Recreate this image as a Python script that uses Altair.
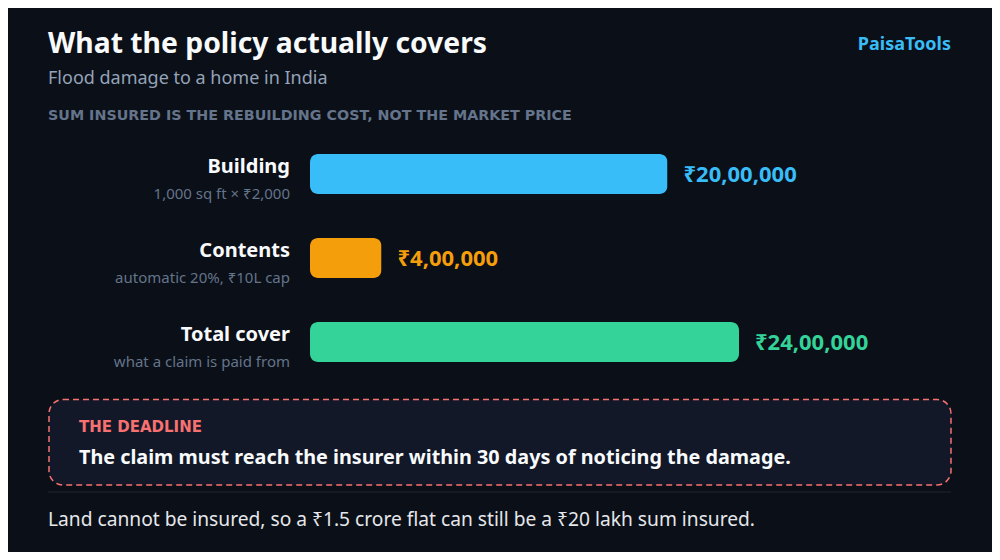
import altair as alt
import pandas as pd

# ---- data ----
categories = ["Building", "Contents", "Total cover"]
notes = ["1,000 sq ft × ₹2,000", "automatic 20%, ₹10L cap", "what a claim is paid from"]
values = [2000000, 400000, 2400000]
value_labels = ["₹20,00,000", "₹4,00,000", "₹24,00,000"]
colors = ["#38bdf8", "#f59e0b", "#34d399"]

title = "What the policy actually covers"
subtitle = "Flood damage to a home in India"
section = "SUM INSURED IS THE REBUILDING COST, NOT THE MARKET PRICE"
brand = "PaisaTools"
callout_head = "THE DEADLINE"
callout_body = "The claim must reach the insurer within 30 days of noticing the damage."
footer = "Land cannot be insured, so a ₹1.5 crore flat can still be a ₹20 lakh sum insured."

FONT = "Noto Sans"
WIDE = "DejaVu Sans"
BG = "#0b0f17"

df = pd.DataFrame({"category": categories, "note": notes, "value": values, "label": value_labels})

xs = alt.Scale(domain=[0, 2400000], range=[302, 731])
ys = alt.Scale(domain=categories, range=[146, 354], paddingInner=0.524, paddingOuter=0)
cs = alt.Scale(domain=categories, range=colors)

base = alt.Chart(df)

bars = base.mark_bar(cornerRadius=8).encode(
    x=alt.X("value:Q", scale=xs, axis=None),
    y=alt.Y("category:N", scale=ys, axis=None, sort=categories),
    color=alt.Color("category:N", scale=cs, legend=None),
)

vals = base.mark_text(align="left", baseline="middle", dx=16, dy=1, font=FONT,
                      fontSize=22, fontWeight="bold").encode(
    x=alt.X("value:Q", scale=xs, axis=None),
    y=alt.Y("category:N", scale=ys, axis=None, sort=categories),
    color=alt.Color("category:N", scale=cs, legend=None),
    text="label:N",
)

cat_lbl = base.mark_text(align="right", baseline="alphabetic", dy=-1, font=FONT,
                         fontSize=20, fontWeight="bold", color="#f8fafc").encode(
    x=alt.value(282),
    y=alt.Y("category:N", scale=ys, axis=None, sort=categories),
    text="category:N",
)

note_lbl = base.mark_text(align="right", baseline="alphabetic", dy=25, font=FONT,
                          fontSize=15, color="#64748b").encode(
    x=alt.value(282),
    y=alt.Y("category:N", scale=ys, axis=None, sort=categories),
    text="note:N",
)

one = pd.DataFrame({"k": [0]})


def txt(s, x, y, size, color, weight="normal", align="left", font=FONT):
    return alt.Chart(pd.DataFrame({"t": [s]})).mark_text(
        align=align, baseline="alphabetic", font=font, fontSize=size,
        fontWeight=weight, color=color,
    ).encode(x=alt.value(x), y=alt.value(y), text="t:N")


box = alt.Chart(one).mark_rect(
    cornerRadius=14, fill="#121827", stroke="#f87171", strokeWidth=1.5, strokeDash=[6, 4]
).encode(x=alt.value(41), x2=alt.value(943), y=alt.value(391.5), y2=alt.value(477))

sep = alt.Chart(one).mark_rule(color="#1e2430", strokeWidth=1).encode(
    x=alt.value(40), x2=alt.value(943), y=alt.value(484)
)

layers = [
    txt(title, 40, 45, 28.3, "#f8fafc", "bold"),
    txt(brand, 943, 42, 18, "#38bdf8", "bold", "right"),
    txt(subtitle, 40, 75.5, 18, "#94a3b8"),
    txt(section, 40, 111.5, 14.3, "#64748b", "bold", font=WIDE),
    bars, vals, cat_lbl, note_lbl,
    box,
    txt(callout_head, 71, 423.5, 15, "#f87171", "bold", font=WIDE),
    txt(callout_body, 71, 456, 19.8, "#f8fafc", "bold"),
    sep,
    txt(footer, 40, 517.5, 19.2, "#e5e7eb"),
]

chart = alt.layer(*layers).properties(
    width=984, height=544, padding=0, background=BG
).configure_view(stroke=None)

chart.save("out.html", embed_options={"renderer": "svg", "actions": False})
